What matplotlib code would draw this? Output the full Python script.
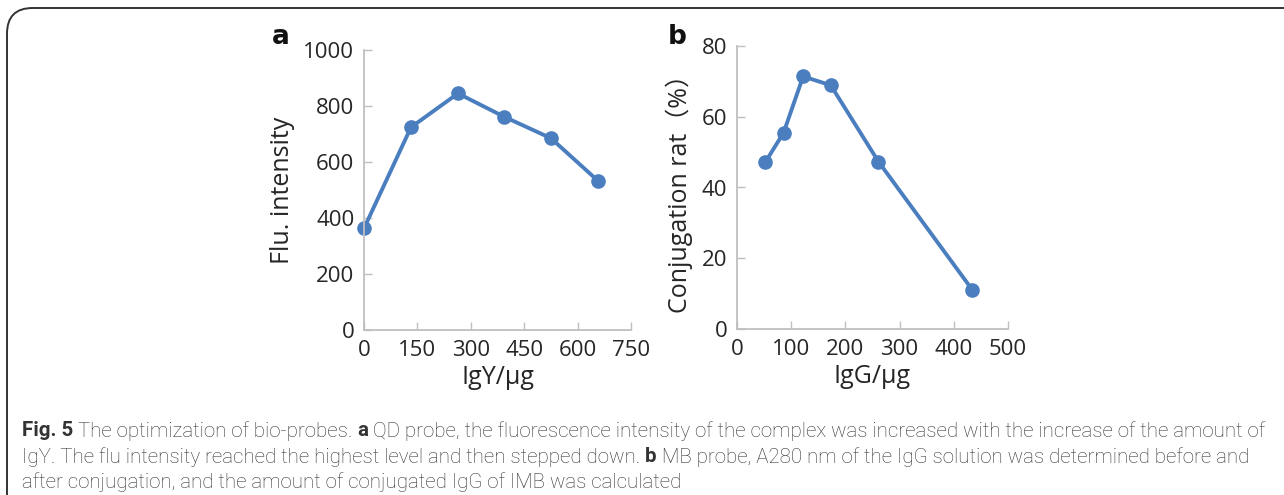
import numpy as np
import matplotlib
matplotlib.use('Agg')
import matplotlib.pyplot as plt
from matplotlib.patches import FancyBboxPatch

# panel a
igy = [0, 132, 264, 393, 525, 657]
flu = [363, 724, 845, 762, 685, 533]
# panel b
igg = [52, 86, 122, 173, 261, 434]
conj = [47.1, 55.5, 71.4, 68.9, 47.3, 11.1]

a_xticks = [0, 150, 300, 450, 600, 750]
a_yticks = [0, 200, 400, 600, 800, 1000]
b_xticks = [0, 100, 200, 300, 400, 500]
b_yticks = [0, 20, 40, 60, 80]

line_col = '#4a7ebf'
spine_col = '#bfbfbf'
txt_col = '#262626'
fam = ['Open Sans', 'Noto Sans CJK SC', 'DejaVu Sans']

fig = plt.figure(figsize=(12.84, 4.95), dpi=100)


def style(ax, xticks, yticks):
    for s in ['top', 'right']:
        ax.spines[s].set_visible(False)
    for s in ['left', 'bottom']:
        ax.spines[s].set_color(spine_col)
        ax.spines[s].set_linewidth(1.3)
    ax.set_xticks(xticks)
    ax.set_yticks(yticks)
    ax.set_xlim(xticks[0], xticks[-1])
    ax.set_ylim(yticks[0], yticks[-1])
    ax.tick_params(direction='in', length=6, width=1, color=spine_col,
                   labelsize=16, labelcolor=txt_col, pad=7)
    for lab in ax.get_xticklabels() + ax.get_yticklabels():
        lab.set_family(fam)
    ax.set_facecolor('none')


ax = fig.add_axes([364 / 1284, 165 / 495, 267 / 1284, 280 / 495])
ax.plot(igy, flu, '-o', color=line_col, lw=2.8, ms=9.5, clip_on=False)
style(ax, a_xticks, a_yticks)
ax.set_xlabel('IgY/μg', fontsize=18, family=fam, color=txt_col, labelpad=3)
ax.set_ylabel('Flu. intensity', fontsize=18, family=fam, color=txt_col, labelpad=6)
fig.text(281 / 1284, 1 - 37 / 495, 'a', fontsize=19, weight='bold', ha='center', va='center',
         family='DejaVu Sans', color='#111111')

ax = fig.add_axes([737 / 1284, 166 / 495, 271 / 1284, 283 / 495])
ax.plot(igg, conj, '-o', color=line_col, lw=2.8, ms=9.5, clip_on=False)
style(ax, b_xticks, b_yticks)
ax.set_xlabel('IgG/μg', fontsize=18, family=fam, color=txt_col, labelpad=3)
ax.set_ylabel('Conjugation rat（%）', fontsize=18, family=fam, color=txt_col, labelpad=6)
fig.text(677 / 1284, 1 - 37 / 495, 'b', fontsize=19, weight='bold', ha='center', va='center',
         family='DejaVu Sans', color='#111111')

# caption box (only top/left edges visible in the crop)
box = FancyBboxPatch((7 / 1284, -0.2), 1.2, 1.2 - 8 / 495,
                     boxstyle='round,pad=0,rounding_size=0.02',
                     transform=fig.transFigure, fill=False, ec='#333333', lw=1.4,
                     mutation_aspect=1284 / 495)
fig.patches.append(box)

cap_lines = [
    [('Fig. 5', True), (' The optimization of bio-probes. ', False), ('a', True),
     (' QD probe, the fluorescence intensity of the complex was increased with the increase of the amount of', False)],
    [('IgY. The flu intensity reached the highest level and then stepped down. ', False), ('b', True),
     (' MB probe, A280 nm of the IgG solution was determined before and', False)],
    [('after conjugation, and the amount of conjugated IgG of IMB was calculated', False)],
]
cap_y = [431, 457, 482]
cap_fam = ['Roboto', 'DejaVu Sans']

fig.canvas.draw()
r = fig.canvas.get_renderer()
for parts, yy in zip(cap_lines, cap_y):
    x = 22
    for s, b in parts:
        t = fig.text(x / 1284, 1 - yy / 495, s, fontsize=14.8, family=cap_fam,
                     weight='bold' if b else 'light', va='center', color='#333333')
        bb = t.get_window_extent(r)
        x = bb.x1

fig.savefig('out.png', dpi=100)
